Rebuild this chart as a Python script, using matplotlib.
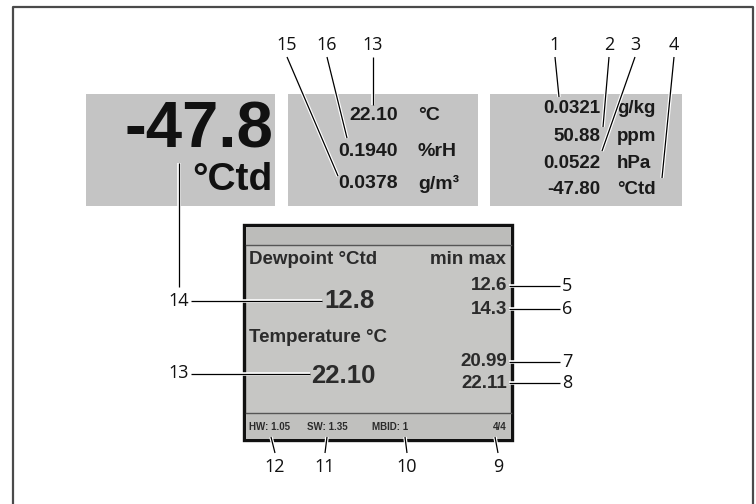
import matplotlib.pyplot as plt
from matplotlib import patheffects
from matplotlib.patches import Rectangle

# readings shown in the three grey display boxes
BIG_VALUE = "-47.8"
BIG_UNIT = "°Ctd"
MID_VALUES = ["22.10", "0.1940", "0.0378"]
MID_UNITS = ["°C", "%rH", "g/m³"]
RIGHT_VALUES = ["0.0321", "50.88", "0.0522", "-47.80"]
RIGHT_UNITS = ["g/kg", "ppm", "hPa", "°Ctd"]

# LCD screen contents
SCREEN_HEADINGS = ["Dewpoint °Ctd", "Temperature °C"]
SCREEN_MAIN = ["12.8", "22.10"]
SCREEN_MINMAX = ["12.6", "14.3", "20.99", "22.11"]
SCREEN_FOOTER = ["HW: 1.05", "SW: 1.35", "MBID: 1"]
SCREEN_PAGE = "4/4"

# callout numbers
TOP_MID_LABELS = ["15", "16", "13"]
TOP_RIGHT_LABELS = ["1", "2", "3", "4"]
SIDE_RIGHT_LABELS = ["5", "6", "7", "8"]
SIDE_LEFT_LABELS = ["14", "13"]
BOTTOM_LABELS = ["12", "11", "10", "9"]

# layout (pixel coordinates, y downwards)
BOX_GREY = "#c4c4c4"
MID_ROWS = [115, 152, 184]
RIGHT_ROWS = [108.5, 136.5, 163.5, 190]
MINMAX_ROWS = [286, 309, 362, 383]
TOP_MID_X = [287, 327, 373]
TOP_MID_END = [(338, 176), (347, 138), (373, 105)]
TOP_RIGHT_X = [555, 609, 635, 674]
TOP_RIGHT_END = [(559, 97), (603, 127), (602, 151), (662, 178)]
BOTTOM_X = [(271, 275), (327, 325), (405, 407), (495, 498)]

plt.rcParams["font.family"] = ["Liberation Sans", "DejaVu Sans"]

fig = plt.figure(figsize=(7.56, 5.04), dpi=100)
ax = fig.add_axes([0, 0, 1, 1])
ax.set_xlim(0, 756)
ax.set_ylim(504, 0)
ax.axis("off")

halo = [patheffects.withStroke(linewidth=2.6, foreground="white")]
label_font = dict(family=["Open Sans", "DejaVu Sans"], fontsize=13, color="#111111")


def callout(x0, y0, x1, y1):
    ax.plot([x0, x1], [y0, y1], color="black", linewidth=0.9,
            solid_capstyle="butt", path_effects=halo, zorder=5)


# outer frame
ax.plot([12.7, 12.7, 752.5, 752.5], [510, 6.7, 6.7, 510],
        color="#4a4a4a", linewidth=1.6)

# grey boxes
for x0, x1 in [(86, 275), (288, 478), (490, 682)]:
    ax.add_patch(Rectangle((x0, 94), x1 - x0, 111.5, facecolor=BOX_GREY,
                           edgecolor="none"))

ax.text(273, 130, BIG_VALUE, ha="right", va="center", fontsize=47,
        fontweight="bold", color="#111111")
ax.text(273, 180, BIG_UNIT, ha="right", va="center", fontsize=28,
        fontweight="bold", color="#111111")

for y, value, unit in zip(MID_ROWS, MID_VALUES, MID_UNITS):
    ax.text(398, y, value, ha="right", va="center", fontsize=14,
            fontweight="bold", color="#1a1a1a")
    ax.text(418, y, unit, ha="left", va="center", fontsize=14,
            fontweight="bold", color="#1a1a1a")

for y, value, unit in zip(RIGHT_ROWS, RIGHT_VALUES, RIGHT_UNITS):
    ax.text(600, y, value, ha="right", va="center", fontsize=13.5,
            fontweight="bold", color="#1a1a1a")
    ax.text(617, y, unit, ha="left", va="center", fontsize=13.5,
            fontweight="bold", color="#1a1a1a")

# top callouts
for x, (ex, ey), label in zip(TOP_MID_X, TOP_MID_END, TOP_MID_LABELS):
    ax.text(x, 45, label, ha="center", va="center", **label_font)
    callout(x, 57, ex, ey)
for x, (ex, ey), label in zip(TOP_RIGHT_X, TOP_RIGHT_END, TOP_RIGHT_LABELS):
    ax.text(x, 45, label, ha="center", va="center", **label_font)
    callout(x, 57, ex, ey)

# LCD screen
ax.add_patch(Rectangle((244, 225), 268, 215, facecolor="#c6c6c4",
                       edgecolor="#111111", linewidth=2.4, zorder=2))
ax.add_patch(Rectangle((245.5, 226.5), 265, 18.5, facecolor="#bcbcba",
                       edgecolor="none", zorder=2))
ax.plot([245.5, 510.5], [245, 245], color="#555555", linewidth=1.0, zorder=3)
ax.plot([245.5, 510.5], [413, 413], color="#555555", linewidth=1.0, zorder=3)
ax.add_patch(Rectangle((245.5, 413.5), 265, 25, facecolor="#c0c0be",
                       edgecolor="none", zorder=2))

screen_text = dict(color="#2b2b2b", fontweight="bold", zorder=4)
ax.text(249, 259, SCREEN_HEADINGS[0], ha="left", va="center", fontsize=13.5,
        **screen_text)
ax.text(249, 337, SCREEN_HEADINGS[1], ha="left", va="center", fontsize=13.5,
        **screen_text)
ax.text(506, 259, "min max", ha="right", va="center", fontsize=13.5,
        **screen_text)
ax.text(350, 301, SCREEN_MAIN[0], ha="center", va="center", fontsize=18.5,
        **screen_text)
ax.text(343, 376, SCREEN_MAIN[1], ha="center", va="center", fontsize=18.5,
        **screen_text)
for y, value in zip(MINMAX_ROWS, SCREEN_MINMAX):
    ax.text(507, y, value, ha="right", va="center", fontsize=13.5,
            **screen_text)
for x, value in zip([249, 307, 372], SCREEN_FOOTER):
    ax.text(x, 427, value, ha="left", va="center", fontsize=7, **screen_text)
ax.text(507, 427, SCREEN_PAGE, ha="right", va="center", fontsize=7,
        **screen_text)

# side callouts
callout(179, 163, 179, 287)
ax.text(179, 301, SIDE_LEFT_LABELS[0], ha="center", va="center", **label_font)
callout(191, 300.5, 322, 300.5)
ax.text(179, 373.5, SIDE_LEFT_LABELS[1], ha="center", va="center", **label_font)
callout(191, 374, 310, 374)

for y, label in zip(MINMAX_ROWS, SIDE_RIGHT_LABELS):
    callout(509, y, 560, y)
    ax.text(567, y, label, ha="center", va="center", **label_font)

for (x0, x1), label in zip(BOTTOM_X, BOTTOM_LABELS):
    callout(x0, 437, x1, 453)
    ax.text(x1, 467, label, ha="center", va="center", **label_font)

fig.savefig("out.png", dpi=100)
